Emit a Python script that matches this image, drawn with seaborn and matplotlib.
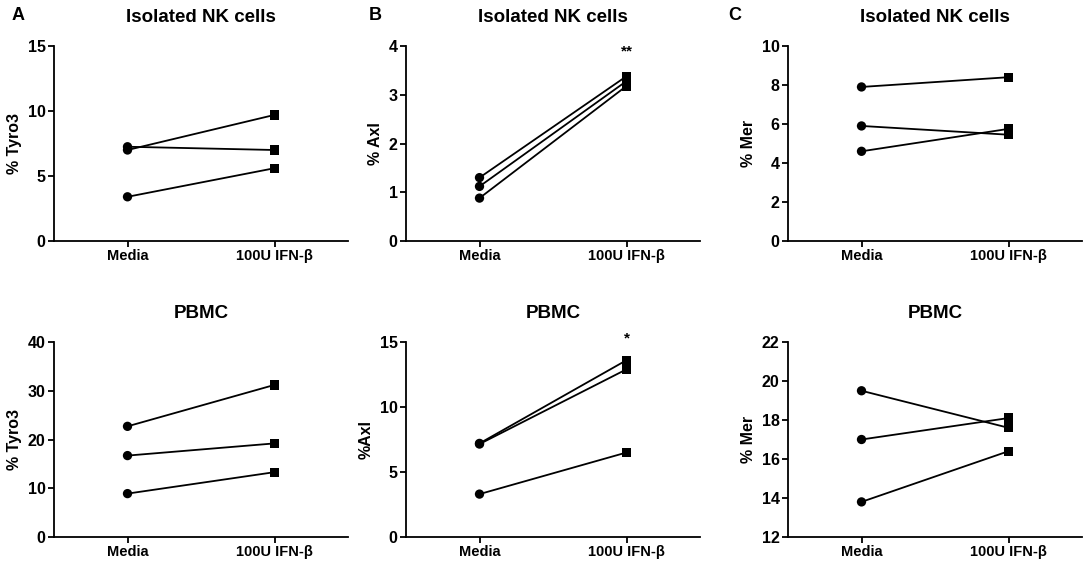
import pandas as pd
import matplotlib.pyplot as plt
import seaborn as sns

sns.set_style('ticks')
plt.rcParams['font.family'] = ['Liberation Sans', 'DejaVu Sans']
plt.rcParams['font.weight'] = 'bold'
plt.rcParams['text.color'] = 'black'
plt.rcParams['axes.labelcolor'] = 'black'
plt.rcParams['xtick.color'] = 'black'
plt.rcParams['ytick.color'] = 'black'
plt.rcParams['axes.edgecolor'] = 'black'

conditions = ['Media', '100U IFN-β']

# values: (Media, IFN) per donor
tyro3_nk_media = [7.0, 7.25, 3.4]
tyro3_nk_ifn = [9.7, 7.0, 5.6]
axl_nk_media = [1.3, 1.12, 0.88]
axl_nk_ifn = [3.38, 3.28, 3.18]
mer_nk_media = [7.9, 5.9, 4.6]
mer_nk_ifn = [8.4, 5.45, 5.75]

tyro3_pbmc_media = [22.7, 16.7, 8.9]
tyro3_pbmc_ifn = [31.2, 19.2, 13.3]
axl_pbmc_media = [7.2, 7.15, 3.3]
axl_pbmc_ifn = [13.6, 12.9, 6.5]
mer_pbmc_media = [19.5, 17.0, 13.8]
mer_pbmc_ifn = [17.6, 18.1, 16.4]

panels = [
    # title, ylabel, media, ifn, ylim, yticks, star, letter
    ('Isolated NK cells', '% Tyro3', tyro3_nk_media, tyro3_nk_ifn, (0, 15), [0, 5, 10, 15], None, 'A'),
    ('Isolated NK cells', '% Axl', axl_nk_media, axl_nk_ifn, (0, 4), [0, 1, 2, 3, 4], ('**', 3.88), 'B'),
    ('Isolated NK cells', '% Mer', mer_nk_media, mer_nk_ifn, (0, 10), [0, 2, 4, 6, 8, 10], None, 'C'),
    ('PBMC', '% Tyro3', tyro3_pbmc_media, tyro3_pbmc_ifn, (0, 40), [0, 10, 20, 30, 40], None, None),
    ('PBMC', '%Axl', axl_pbmc_media, axl_pbmc_ifn, (0, 15), [0, 5, 10, 15], ('*', 15.3), None),
    ('PBMC', '% Mer', mer_pbmc_media, mer_pbmc_ifn, (12, 22), [12, 14, 16, 18, 20, 22], None, None),
]

W, H = 1084, 564
fig = plt.figure(figsize=(W / 100, H / 100), dpi=100)

lefts = [54, 406, 788]
letter_x = [12, 369, 728]
bottoms = [323, 27]
aw, ah = 294, 195

for i, (title, ylab, media, ifn, ylim, yticks, star, letter) in enumerate(panels):
    row, col = divmod(i, 3)
    ax = fig.add_axes([lefts[col] / W, bottoms[row] / H, aw / W, ah / H])

    df = pd.DataFrame({
        'donor': list(range(len(media))) * 2,
        'condition': [conditions[0]] * len(media) + [conditions[1]] * len(ifn),
        'value': media + ifn,
    })

    sns.lineplot(data=df, x='condition', y='value', units='donor', estimator=None,
                 color='black', linewidth=1.3, ax=ax, zorder=2)
    sns.scatterplot(data=df, x='condition', y='value', style='condition',
                    markers={conditions[0]: 'o', conditions[1]: 's'},
                    color='black', s=45, edgecolor='black', linewidth=0,
                    legend=False, ax=ax, zorder=3, clip_on=False)

    ax.set_xlim(-0.5, 1.5)
    ax.set_ylim(*ylim)
    ax.set_yticks(yticks)
    ax.set_xlabel('')
    ax.set_ylabel(ylab, fontsize=11.5, fontweight='bold', labelpad=4)
    ax.set_title(title, fontsize=13.5, fontweight='bold', pad=17)

    sns.despine(ax=ax)
    for s in ['left', 'bottom']:
        ax.spines[s].set_linewidth(1.3)
    ax.tick_params(axis='both', width=1.3, length=4, labelsize=10.5, pad=2)
    ax.tick_params(axis='y', labelsize=11.5)
    for lbl in ax.get_xticklabels() + ax.get_yticklabels():
        lbl.set_fontweight('bold')

    if star is not None:
        ax.text(1, star[1], star[0], ha='center', va='center', fontsize=11,
                fontweight='bold', clip_on=False)

    if letter is not None:
        fig.text(letter_x[col] / W, (H - 15) / H, letter, fontsize=13,
                 fontweight='bold', ha='left', va='center')

fig.savefig('out.png', dpi=100, facecolor='white')
